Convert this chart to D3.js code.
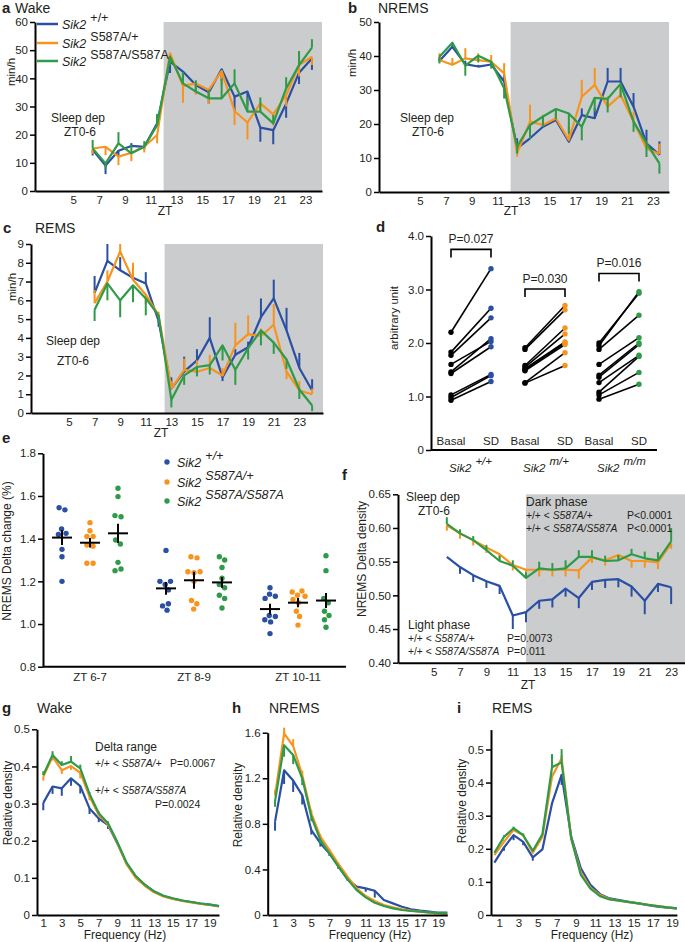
<!DOCTYPE html>
<html>
<head>
<meta charset="utf-8">
<script src="https://cdn.jsdelivr.net/npm/d3@7"></script>
<style>
  body { margin: 0; background: #fff; }
  text { font-family: "Liberation Sans", Arial, sans-serif; fill: #231f20; }
</style>
</head>
<body>
<div id="fig"></div>
<script>
// ---- data ----
const ztHalf = [6.5, 7.5, 8.5, 9.5, 10.5, 11.5, 12.5, 13.5, 14.5, 15.5, 16.5, 17.5, 18.5, 19.5, 20.5, 21.5, 22.5, 23.5];
const ztHour = [7, 8, 9, 10, 11, 12, 13, 14, 15, 16, 17, 18, 19, 20, 21, 22, 23, 24];
const ztF = [6, 7, 8, 9, 10, 11, 12, 13, 14, 15, 16, 17, 18, 19, 20, 21, 22, 23];
const ztTicks = [5, 7, 9, 11, 13, 15, 17, 19, 21, 23];

// a: Wake (min/h)
const aBlue = [14.6, 9.0, 14.3, 16.0, 15.7, 24.0, 45.9, 42.4, 37.6, 35.0, 43.2, 33.5, 35.3, 22.5, 21.6, 31.0, 42.0, 47.0];
const aBlueE = [-2, -3, -2, 1, -1, 3, -4, -3, -3, -4, -4, -5, -5, -5, -5, -5, -4, -4];
const aOrange = [15.1, 15.7, 12.2, 13.6, 15.7, 19.9, 48.9, 37.3, 38.2, 35.9, 42.6, 28.4, 24.3, 31.1, 27.2, 34.0, 44.7, 47.7];
const aOrangeE = [-2, -3, -3, -3, -2, -3, -3, -6, -4, -5, -5, -5, -6, -3, -4, -4, -4, -3];
const aGreen = [15.1, 9.8, 16.9, 13.4, 15.7, 23.4, 47.7, 38.2, 35.3, 32.9, 32.9, 38.2, 28.2, 28.2, 24.0, 36.4, 44.7, 50.9];
const aGreenE = [3, -2, 4, 3, 2, 4, -3, 4, 4, 3, 7, 5, 5, 5, 3, 4, 5, 3];

// b: NREMS (min/h)
const bBlue = [38.5, 42.7, 37.6, 36.9, 37.5, 32.5, 12.8, 15.8, 19.2, 21.2, 14.8, 22.6, 21.7, 32.5, 32.5, 25.1, 14.3, 10.9];
const bBlueE = [1, 1, 1, 0.5, 1, 2, 3, 1, 2, 2, 1, 2, 3, 4, 4, 4, 4, 4];
const bOrange = [38.8, 37.4, 39.3, 38.8, 38.3, 34.9, 11.4, 20.7, 19.7, 21.7, 15.3, 28.0, 31.5, 25.1, 28.5, 20.7, 12.8, 11.2];
const bOrangeE = [2, 2, 3, 2, 2, 3, -1, 5, 3, 3, 4, 5, 5, 3, 3, 3, 2, 3];
const bGreen = [39.8, 43.9, 37.2, 40.1, 38.3, 30.5, 13.3, 19.7, 22.2, 24.4, 23.1, 19.2, 27.7, 27.4, 31.8, 20.7, 14.3, 8.4];
const bGreenE = [-2, -1, -3, -2, -2, -3, -2, -4, -3, -3, -6, -4, -4, -4, -4, -3, -4, -3];

// c: REMS (min/h)
const cBlue = [6.4, 8.1, 7.6, 7.2, 6.9, 4.9, 1.3, 2.2, 2.8, 4.0, 1.9, 3.1, 3.5, 5.1, 6.1, 4.4, 2.4, 1.2];
const cBlueE = [0.9, 0.9, 0.7, 0.3, 0.6, -0.3, 0.6, 0.8, 0.6, 1.1, -0.2, 0.3, 0.3, 1.0, 1.0, 1.2, 0.8, 0.6];
const cOrange = [5.85, 7.0, 8.6, 7.1, 6.3, 5.2, 1.3, 2.3, 2.2, 2.4, 2.0, 3.6, 4.2, 4.1, 4.7, 2.2, 1.2, 1.0];
const cOrangeE = [0.7, 0.6, 0.4, 0.9, -0.5, 0.2, 0.4, 0.6, 0.6, 0.7, 0.4, 1.2, 1.0, 0.4, 1.1, -0.4, 0.5, 0.3];
const cGreen = [5.5, 6.9, 6.0, 6.8, 6.1, 5.2, 0.7, 2.0, 2.45, 2.55, 3.6, 2.3, 3.45, 4.4, 3.75, 2.85, 1.25, 0.4];
const cGreenE = [-0.6, -0.9, -0.9, -0.9, -0.9, -0.3, -0.4, -0.5, -0.5, -0.5, -0.8, -0.8, -0.6, -0.8, -0.6, -0.5, -0.5, -0.3];

// d: paired basal / SD, arbitrary unit
const dGroups = ["+/+", "m/+", "m/m"];
const dBasal = [
  [2.2, 1.83, 1.77, 1.6, 1.46, 1.43, 1.03, 0.98, 0.93],
  [1.91, 1.88, 1.58, 1.55, 1.52, 1.5, 1.48, 1.26, 1.25],
  [2.0, 1.95, 1.88, 1.6, 1.4, 1.36, 1.26, 1.08, 1.03, 0.95]
];
const dSD = [
  [3.39, 2.65, 2.47, 2.03, 2.08, 1.93, 1.41, 1.39, 1.28],
  [2.7, 2.62, 2.28, 2.17, 2.02, 2.0, 1.97, 1.82, 1.58],
  [2.93, 2.96, 2.52, 2.1, 2.0, 1.97, 1.77, 1.75, 1.45, 1.23]
];
const dP = ["P=0.027", "P=0.030", "P=0.016"];
const dBracket = [3.75, 3.01, 3.3];

// e: NREMS delta change
const eCats = ["ZT 6-7", "ZT 8-9", "ZT 10-11"];
const eBlue = [
  [1.545, 1.535, 1.445, 1.425, 1.42, 1.35, 1.315, 1.2],
  [1.345, 1.2, 1.2, 1.185, 1.16, 1.095, 1.085, 1.065],
  [1.17, 1.14, 1.13, 1.12, 1.04, 1.035, 1.02, 1.01, 0.955]
];
const eOrange = [
  [1.475, 1.437, 1.41, 1.41, 1.37, 1.365, 1.285, 1.285],
  [1.315, 1.31, 1.245, 1.245, 1.24, 1.2, 1.11, 1.095, 1.07],
  [1.155, 1.15, 1.135, 1.13, 1.115, 1.1, 1.06, 1.035, 0.995]
];
const eGreen = [
  [1.636, 1.597, 1.508, 1.503, 1.394, 1.375, 1.289, 1.258, 1.25],
  [1.315, 1.3, 1.265, 1.215, 1.185, 1.17, 1.135, 1.12, 1.075],
  [1.32, 1.25, 1.12, 1.1, 1.06, 1.04, 1.02, 0.985]
];
const eMean = [[1.405, 1.167, 1.07], [1.381, 1.205, 1.1], [1.425, 1.195, 1.11]];
const eSem = [[0.035, 0.03, 0.025], [0.022, 0.04, 0.022], [0.045, 0.025, 0.035]];

// f: NREMS delta density
const fBlue = [0.557, 0.542, 0.530, 0.521, 0.514, 0.470, 0.475, 0.492, 0.494, 0.510, 0.496, 0.520, 0.523, 0.524, 0.513, 0.492, 0.517, 0.512];
const fBlueE = [0, -0.01, -0.01, -0.01, -0.012, -0.02, -0.015, -0.012, -0.012, -0.012, -0.015, -0.012, -0.012, -0.012, -0.015, -0.02, -0.012, -0.025];
const fOrange = [0.604, 0.592, 0.582, 0.571, 0.561, 0.545, 0.538, 0.538, 0.538, 0.538, 0.537, 0.556, 0.552, 0.560, 0.551, 0.551, 0.549, 0.577];
const fOrangeE = [-0.008, -0.008, -0.008, -0.008, -0.008, -0.008, -0.008, -0.01, -0.01, -0.01, -0.012, -0.008, -0.008, -0.008, -0.01, -0.01, -0.01, -0.008];
const fGreen = [0.606, 0.592, 0.582, 0.567, 0.551, 0.544, 0.526, 0.540, 0.538, 0.540, 0.557, 0.557, 0.551, 0.552, 0.561, 0.555, 0.552, 0.580];
const fGreenE = [0.01, 0.006, 0.006, 0.008, 0.008, 0.008, 0.008, 0.01, 0.01, 0.012, 0.01, 0.01, 0.008, 0.008, 0.008, 0.01, 0.012, 0.02];

// g, h, i: EEG spectra (relative density)
const freq = [1, 2, 3, 4, 5, 6, 7, 8, 9, 10, 11, 12, 13, 14, 15, 16, 17, 18, 19, 20];
const freqI = [0.5, 1.5, 2.5, 3.5, 4.5, 5.5, 6.5, 7.5, 8.5, 9.5, 10.5, 11.5, 12.5, 13.5, 14.5, 15.5, 16.5, 17.5, 18.5, 19.5];
const hzTicks = [1, 3, 5, 7, 9, 11, 13, 15, 17, 19];

const gBlue = [0.302, 0.346, 0.341, 0.368, 0.347, 0.287, 0.26, 0.242, 0.193, 0.139, 0.103, 0.081, 0.063, 0.051, 0.044, 0.039, 0.035, 0.031, 0.028, 0.024];
const gBlueE = [-0.02, -0.02, -0.02, -0.02, -0.02, -0.015, -0.01, -0.01, 0, 0, 0, 0, 0, 0, 0, 0, 0, 0, 0, 0];
const gOrange = [0.372, 0.426, 0.39, 0.401, 0.383, 0.319, 0.269, 0.244, 0.195, 0.137, 0.1, 0.078, 0.061, 0.05, 0.043, 0.038, 0.034, 0.03, 0.027, 0.023];
const gOrangeE = [-0.01, -0.01, -0.01, -0.01, -0.015, -0.01, -0.005, -0.005, 0, 0, 0, 0, 0, 0, 0, 0, 0, 0, 0, 0];
const gGreen = [0.377, 0.431, 0.404, 0.413, 0.395, 0.326, 0.274, 0.247, 0.197, 0.141, 0.105, 0.081, 0.063, 0.052, 0.045, 0.039, 0.035, 0.031, 0.028, 0.024];
const gGreenE = [0.01, 0.01, 0.01, 0.015, 0.01, 0.005, 0.005, 0.005, 0, 0, 0, 0, 0, 0, 0, 0, 0, 0, 0, 0];

const hBlue = [0.82, 1.27, 1.18, 1.05, 0.746, 0.63, 0.54, 0.424, 0.313, 0.249, 0.234, 0.213, 0.132, 0.102, 0.073, 0.05, 0.038, 0.029, 0.02, 0.02];
const hBlueE = [-0.08, -0.12, -0.1, -0.08, -0.04, -0.03, -0.02, -0.02, -0.01, -0.02, -0.03, -0.06, 0, 0, 0, 0, 0, 0, 0, 0];
const hOrange = [1.05, 1.594, 1.483, 1.228, 0.892, 0.687, 0.57, 0.447, 0.336, 0.234, 0.167, 0.123, 0.088, 0.067, 0.05, 0.038, 0.029, 0.02, 0.015, 0.015];
const hOrangeE = [0.05, 0.05, 0.06, 0.04, 0.03, 0.02, 0.01, 0.01, 0, 0, 0, 0, 0, 0, 0, 0, 0, 0, 0, 0];
const hGreen = [1.0, 1.49, 1.404, 1.2, 0.863, 0.658, 0.541, 0.424, 0.313, 0.219, 0.155, 0.108, 0.079, 0.058, 0.044, 0.035, 0.029, 0.023, 0.018, 0.015];
const hGreenE = [-0.05, -0.1, -0.08, -0.06, -0.04, -0.03, -0.02, -0.02, -0.01, 0, 0, 0, 0, 0, 0, 0, 0, 0, 0, 0];

const iBlue = [0.158, 0.204, 0.241, 0.221, 0.174, 0.198, 0.337, 0.423, 0.236, 0.141, 0.091, 0.063, 0.05, 0.045, 0.04, 0.035, 0.03, 0.025, 0.022, 0.02];
const iBlueE = [0, -0.01, -0.015, -0.01, -0.01, 0, 0, -0.03, 0, 0, 0, 0, 0, 0, 0, 0, 0, 0, 0, 0];
const iOrange = [0.181, 0.221, 0.257, 0.241, 0.188, 0.236, 0.418, 0.473, 0.231, 0.128, 0.083, 0.06, 0.048, 0.043, 0.039, 0.035, 0.031, 0.027, 0.023, 0.02];
const iOrangeE = [0, 0.005, 0.005, 0.005, 0, 0, 0, 0.01, 0, 0, 0, 0, 0, 0, 0, 0, 0, 0, 0, 0];
const iGreen = [0.188, 0.236, 0.262, 0.241, 0.194, 0.244, 0.446, 0.461, 0.231, 0.121, 0.08, 0.057, 0.047, 0.043, 0.039, 0.035, 0.031, 0.027, 0.023, 0.02];
const iGreenE = [0, 0.005, 0.005, 0.005, 0.005, 0, 0.04, 0.04, 0, 0, 0, 0, 0, 0, 0, 0, 0, 0, 0, 0];

// ---- drawing ----
const blue = "#2a4fa3", orange = "#f7941e", green = "#2f9a47", shade = "#cbcccd";
const FONT = "'Liberation Sans', Arial, sans-serif";

const svg = d3.select("#fig").append("svg")
    .attr("width", 685)
    .attr("height", 942)
    .style("background-color", "#ffffff");

function label(x, y, str, size, opts = {}) {
    return svg.append("text")
        .attr("x", x).attr("y", y)
        .attr("font-size", size)
        .attr("font-weight", opts.bold ? "bold" : null)
        .attr("font-style", opts.italic ? "italic" : null)
        .attr("text-anchor", opts.anchor || "start")
        .text(str);
}

function yTitle(x, y, str, size) {
    svg.append("text")
        .attr("transform", `translate(${x},${y}) rotate(-90)`)
        .attr("text-anchor", "middle")
        .attr("font-size", size)
        .text(str);
}

// "Sik2" with a raised genotype
function sik(x, y, sup, size, supItalic) {
    const t = svg.append("text").attr("x", x).attr("y", y).attr("font-size", size);
    t.append("tspan").attr("font-style", "italic").text("Sik2");
    t.append("tspan").attr("dx", 4).attr("dy", -7)
        .attr("font-style", supItalic ? "italic" : "normal").text(sup);
}

// mixed "+/+ < S587A/+" comparison text
function compare(x, y, geno, size) {
    const t = svg.append("text").attr("x", x).attr("y", y).attr("font-size", size);
    t.append("tspan").text("+/+ < ");
    t.append("tspan").attr("font-style", "italic").text(geno);
}

function styleAxis(a, size) {
    a.select(".domain").attr("stroke", "#000").attr("stroke-width", 2);
    a.selectAll(".tick line").attr("stroke", "#000").attr("stroke-width", 1.5);
    a.selectAll("text").attr("font-size", size).attr("font-family", FONT).attr("fill", "#231f20");
}

// time course / spectrum panel with error bars
function linePanel(o) {
    const g = svg.append("g");
    const x = d3.scaleLinear().domain(o.xDomain).range([o.left, o.right]);
    const y = d3.scaleLinear().domain(o.yDomain).range([o.bottom, o.top]);

    if (o.dark != null) {
        g.append("rect")
            .attr("x", x(o.dark)).attr("y", o.top)
            .attr("width", o.right - x(o.dark)).attr("height", o.bottom - o.top)
            .attr("fill", shade);
    }

    o.series.forEach((s) => {
        const pts = o.xs.map((t, i) => ({ t, v: s.v[i], e: s.e[i] }));
        g.append("g").selectAll("line")
            .data(pts.filter((d) => d.e !== 0))
            .enter().append("line")
            .attr("x1", (d) => x(d.t)).attr("x2", (d) => x(d.t))
            .attr("y1", (d) => y(d.v)).attr("y2", (d) => y(d.v + d.e))
            .attr("stroke", s.c).attr("stroke-width", 2);
        g.append("path")
            .datum(pts)
            .attr("d", d3.line().x((d) => x(d.t)).y((d) => y(d.v)))
            .attr("fill", "none")
            .attr("stroke", s.c)
            .attr("stroke-width", 2.2)
            .attr("stroke-linejoin", "round");
    });

    const ya = g.append("g").attr("transform", `translate(${o.left},0)`)
        .call(d3.axisLeft(y).tickValues(o.yTicks).tickFormat(o.yFmt)
            .tickSize(5).tickSizeOuter(0).tickPadding(2));
    styleAxis(ya, o.tickFont || 11.5);
    const xa = g.append("g").attr("transform", `translate(0,${o.bottom})`)
        .call(d3.axisBottom(x).tickValues(o.xTicks).tickFormat(d3.format("d"))
            .tickSize(0).tickSizeOuter(0).tickPadding(o.xPad || 5));
    styleAxis(xa, o.tickFont || 11.5);
    return { x, y };
}

const zeroOr = (f) => (d) => (d === 0 ? "0" : d3.format(f)(d));

// ---- panel a ----
linePanel({
    left: 35, right: 322, top: 22, bottom: 191,
    xDomain: [2.03, 24.28], yDomain: [0, 60],
    xs: ztHalf, dark: 12, yTicks: [0, 10, 20, 30, 40, 50, 60], yFmt: d3.format("d"), xTicks: ztTicks,
    series: [{ v: aBlue, e: aBlueE, c: blue }, { v: aOrange, e: aOrangeE, c: orange }, { v: aGreen, e: aGreenE, c: green }]
});
label(2, 13, "a", 15, { bold: true });
label(15, 13, "Wake", 14);
yTitle(15, 72, "min/h", 11.5);
label(165, 215, "ZT", 12, { anchor: "middle" });
label(78, 122, "Sleep dep", 12, { anchor: "middle" });
label(80, 136, "ZT0-6", 12, { anchor: "middle" });
[["+/+", blue, 24], ["S587A/+", orange, 43], ["S587A/S587A", green, 61]].forEach(([sup, c, yy]) => {
    svg.append("line").attr("x1", 37).attr("x2", 58).attr("y1", yy).attr("y2", yy)
        .attr("stroke", c).attr("stroke-width", 2.5);
    sik(62, yy + 4.5, sup, 12.5, false);
});

// ---- panel b ----
linePanel({
    left: 379, right: 669, top: 22, bottom: 192,
    xDomain: [1.83, 24.24], yDomain: [0, 50],
    xs: ztHalf, dark: 12, yTicks: [0, 10, 20, 30, 40, 50], yFmt: d3.format("d"), xTicks: ztTicks,
    series: [{ v: bBlue, e: bBlueE, c: blue }, { v: bOrange, e: bOrangeE, c: orange }, { v: bGreen, e: bGreenE, c: green }]
});
label(348, 13, "b", 15, { bold: true });
label(378, 13, "NREMS", 14);
yTitle(356, 63, "min/h", 11.5);
label(511, 215, "ZT", 12, { anchor: "middle" });
label(427, 122, "Sleep dep", 12, { anchor: "middle" });
label(428, 136, "ZT0-6", 12, { anchor: "middle" });

// ---- panel c ----
linePanel({
    left: 31, right: 323, top: 244, bottom: 413,
    xDomain: [2.03, 24.85], yDomain: [0, 9],
    xs: ztHour, dark: 12.47, yTicks: [0, 1, 2, 3, 4, 5, 6, 7, 8, 9], yFmt: d3.format("d"), xTicks: ztTicks,
    series: [{ v: cBlue, e: cBlueE, c: blue }, { v: cOrange, e: cOrangeE, c: orange }, { v: cGreen, e: cGreenE, c: green }]
});
label(3, 233, "c", 15, { bold: true });
label(35, 233, "REMS", 14);
yTitle(16, 287, "min/h", 11.5);
label(161, 437, "ZT", 12, { anchor: "middle" });
label(73, 345, "Sleep dep", 12, { anchor: "middle" });
label(73, 365, "ZT0-6", 12, { anchor: "middle" });

// ---- panel d ----
{
    const yd = d3.scaleLinear().domain([0, 4]).range([450, 236]);
    const gx = d3.scaleBand().domain(dGroups).range([434, 656]);
    const side = d3.scalePoint().domain(["Basal", "SD"]).range([-20, 20]);
    const cols = [blue, orange, green];
    const g = svg.append("g");

    dGroups.forEach((grp, k) => {
        const cx = gx(grp) + gx.bandwidth() / 2;
        const pairs = dBasal[k].map((b, i) => ({ b, s: dSD[k][i] }));
        g.append("g").selectAll("line").data(pairs).enter().append("line")
            .attr("x1", cx + side("Basal")).attr("x2", cx + side("SD"))
            .attr("y1", (d) => yd(d.b)).attr("y2", (d) => yd(d.s))
            .attr("stroke", "#000").attr("stroke-width", 1.6);
        g.append("g").selectAll("circle").data(dBasal[k]).enter().append("circle")
            .attr("cx", cx + side("Basal")).attr("cy", (d) => yd(d)).attr("r", 2.7).attr("fill", "#000");
        g.append("g").selectAll("circle").data(dSD[k]).enter().append("circle")
            .attr("cx", cx + side("SD")).attr("cy", (d) => yd(d)).attr("r", 2.7).attr("fill", cols[k]);

        // significance bracket
        const by = yd(dBracket[k]);
        g.append("path")
            .attr("d", `M${cx + side("Basal")},${by + 8}V${by}H${cx + side("SD")}V${by + 8}`)
            .attr("fill", "none").attr("stroke", "#000").attr("stroke-width", 1.6);
        label(cx, by - 6, dP[k], 12, { anchor: "middle" });

        ["Basal", "SD"].forEach((s) => label(cx + side(s), 445, s, 11.5, { anchor: "middle" }));
        sik(cx - 22, 472, grp, 11.5, true);
    });

    const ya = g.append("g").attr("transform", "translate(431,0)")
        .call(d3.axisLeft(yd).tickValues([0, 1, 2, 3, 4]).tickFormat(zeroOr(".1f"))
            .tickSize(5).tickSizeOuter(0).tickPadding(2));
    styleAxis(ya, 11.5);
    g.append("line").attr("x1", 431).attr("x2", 657).attr("y1", 450).attr("y2", 450)
        .attr("stroke", "#000").attr("stroke-width", 2);
    label(376, 232, "d", 15, { bold: true });
    yTitle(398, 318, "arbitrary unit", 11.5);
}

// ---- panel e ----
{
    const ye = d3.scaleLinear().domain([0.8, 1.8]).range([666.7, 453.3]);
    const gx = d3.scaleBand().domain(eCats).range([38, 350]);
    const inner = d3.scalePoint().domain([0, 1, 2]).range([-28, 28]);
    const sets = [eBlue, eOrange, eGreen];
    const cols = [blue, orange, green];
    const g = svg.append("g");

    eCats.forEach((cat, k) => {
        const cx = gx(cat) + gx.bandwidth() / 2;
        sets.forEach((set, j) => {
            const x0 = cx + inner(j);
            // small beeswarm so dots with close values sit side by side
            const nodes = set[k].map((v) => ({ v, x: x0, fy: ye(v) }));
            d3.forceSimulation(nodes)
                .force("x", d3.forceX(x0).strength(0.15))
                .force("collide", d3.forceCollide(3.1))
                .stop()
                .tick(200);
            g.append("g").selectAll("circle").data(nodes).enter().append("circle")
                .attr("cx", (d) => d.x).attr("cy", (d) => d.fy).attr("r", 2.7).attr("fill", cols[j]);

            const m = eMean[j][k], s = eSem[j][k];
            g.append("line").attr("x1", x0 - 10).attr("x2", x0 + 10).attr("y1", ye(m)).attr("y2", ye(m))
                .attr("stroke", "#000").attr("stroke-width", 2);
            g.append("line").attr("x1", x0).attr("x2", x0).attr("y1", ye(m - s)).attr("y2", ye(m + s))
                .attr("stroke", "#000").attr("stroke-width", 2);
        });
        label(cx, 681, cat, 11.5, { anchor: "middle" });
    });

    const ya = g.append("g").attr("transform", "translate(43,0)")
        .call(d3.axisLeft(ye).tickValues([0.8, 1.0, 1.2, 1.4, 1.6, 1.8]).tickFormat(d3.format(".1f"))
            .tickSize(5).tickSizeOuter(0).tickPadding(2));
    styleAxis(ya, 11.5);
    g.append("line").attr("x1", 43).attr("x2", 346).attr("y1", 666.7).attr("y2", 666.7)
        .attr("stroke", "#000").attr("stroke-width", 2);

    label(2, 443, "e", 15, { bold: true });
    yTitle(11, 551, "NREMS Delta change (%)", 12);
    [["+/+", blue, 462], ["S587A/+", orange, 482], ["S587A/S587A", green, 501]].forEach(([sup, c, yy]) => {
        svg.append("circle").attr("cx", 167).attr("cy", yy).attr("r", 2.7).attr("fill", c);
        sik(177, yy + 4.5, sup, 12.5, true);
    });
}

// ---- panel f ----
linePanel({
    left: 398, right: 685, top: 494.3, bottom: 662.7,
    xDomain: [2.3, 24.05], yDomain: [0.40, 0.65],
    xs: ztF, dark: 12, yTicks: [0.40, 0.45, 0.50, 0.55, 0.60, 0.65], yFmt: d3.format(".2f"), xTicks: ztTicks,
    series: [{ v: fBlue, e: fBlueE, c: blue }, { v: fOrange, e: fOrangeE, c: orange }, { v: fGreen, e: fGreenE, c: green }]
});
label(342, 480, "f", 15, { bold: true });
yTitle(366, 559, "NREMS Delta density", 12);
label(528, 689, "ZT", 12, { anchor: "middle" });
label(433, 501, "Sleep dep", 12, { anchor: "middle" });
label(434, 515, "ZT0-6", 12, { anchor: "middle" });
label(526, 506, "Dark phase", 12);
compare(526, 519, "S587A/+", 10.3);
label(627, 519, "P<0.0001", 10.5);
compare(526, 532, "S587A/S587A", 10.3);
label(627, 532, "P<0.0001", 10.5);
label(408, 629, "Light phase", 12);
compare(408, 642, "S587A/+", 10.3);
label(507, 642, "P=0.0073", 10.5);
compare(408, 655, "S587A/S587A", 10.3);
label(507, 655, "P=0.011", 10.5);

// ---- panel g ----
linePanel({
    left: 37, right: 219, top: 729.3, bottom: 915,
    xDomain: [0.32, 20], yDomain: [0, 0.5],
    xs: freq, dark: null, yTicks: [0, 0.1, 0.2, 0.3, 0.4, 0.5], yFmt: zeroOr(".1f"), xTicks: hzTicks, xPad: 4,
    series: [{ v: gBlue, e: gBlueE, c: blue }, { v: gOrange, e: gOrangeE, c: orange }, { v: gGreen, e: gGreenE, c: green }]
});
label(2, 713, "g", 15, { bold: true });
label(37, 713, "Wake", 14);
yTitle(12, 803, "Relative density", 12);
label(125, 939, "Frequency (Hz)", 12, { anchor: "middle" });
label(95, 751, "Delta range", 12);
compare(95, 767, "S587A/+", 10.3);
label(170, 767, "P=0.0067", 10.5);
compare(95, 794, "S587A/S587A", 10.3);
label(155, 808, "P=0.0024", 10.5);

// ---- panel h ----
linePanel({
    left: 267.7, right: 447.3, top: 732.7, bottom: 915,
    xDomain: [0.19, 20], yDomain: [0, 1.6],
    xs: freq, dark: null, yTicks: [0, 0.4, 0.8, 1.2, 1.6], yFmt: zeroOr(".1f"), xTicks: hzTicks, xPad: 4,
    series: [{ v: hBlue, e: hBlueE, c: blue }, { v: hOrange, e: hOrangeE, c: orange }, { v: hGreen, e: hGreenE, c: green }]
});
label(232, 713, "h", 15, { bold: true });
label(269, 713, "NREMS", 14);
yTitle(242, 805, "Relative density", 12);
label(370, 939, "Frequency (Hz)", 12, { anchor: "middle" });

// ---- panel i ----
linePanel({
    left: 491, right: 676.9, top: 729.6, bottom: 915,
    xDomain: [0.15, 19.5], yDomain: [0, 0.56],
    xs: freqI, dark: null, yTicks: [0, 0.1, 0.2, 0.3, 0.4, 0.5], yFmt: zeroOr(".1f"), xTicks: hzTicks, xPad: 4,
    series: [{ v: iBlue, e: iBlueE, c: blue }, { v: iOrange, e: iOrangeE, c: orange }, { v: iGreen, e: iGreenE, c: green }]
});
label(457, 713, "i", 15, { bold: true });
label(492, 713, "REMS", 14);
yTitle(466, 801, "Relative density", 12);
label(592, 939, "Frequency (Hz)", 12, { anchor: "middle" });
</script>
</body>
</html>
